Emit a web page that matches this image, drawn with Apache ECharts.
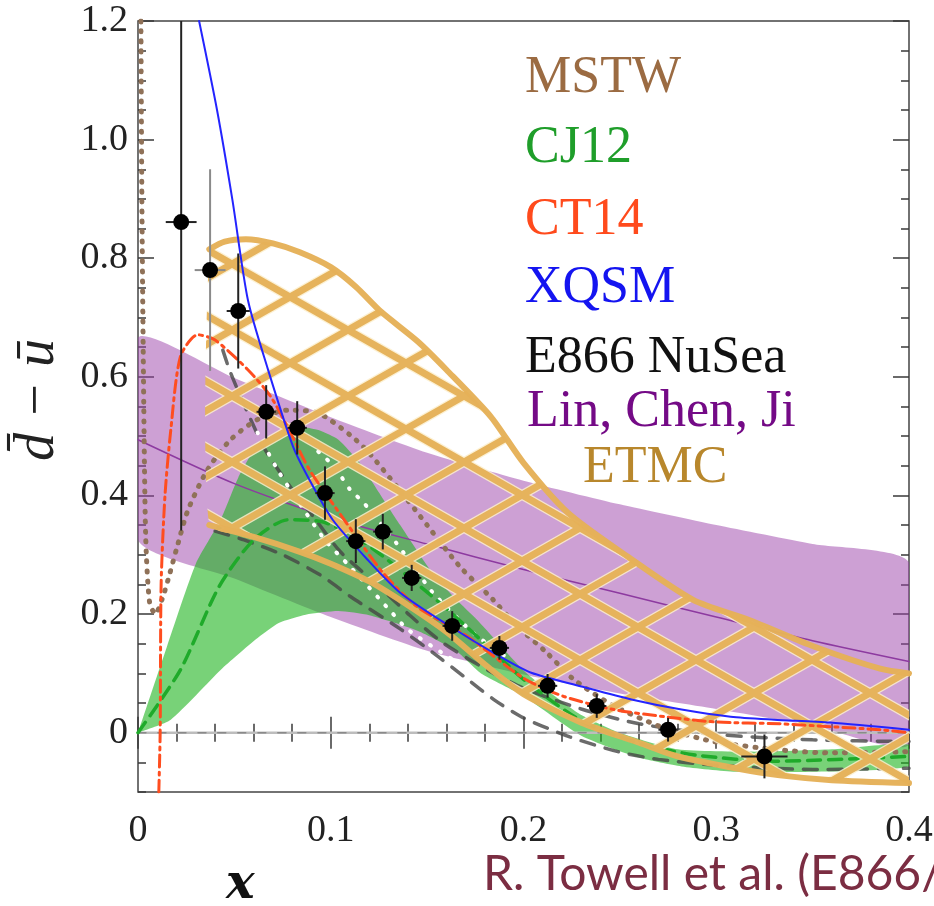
<!DOCTYPE html>
<html>
<head>
<meta charset="utf-8">
<script src="https://cdn.jsdelivr.net/npm/echarts@6/dist/echarts.min.js"></script>
<style>
html, body { margin: 0; padding: 0; background: #fff; }
#main { width: 934px; height: 906px; }
</style>
</head>
<body>
<div id="main"></div>
<script>
var dom = document.getElementById('main');
var myChart = echarts.init(dom, null, { renderer: 'canvas' });

// axis labels
var xLabels = [0, 0.1, 0.2, 0.3, 0.4];
var yMajor = [0, 0.2, 0.4, 0.6, 0.8, 1.0, 1.2];

// Lin, Chen, Ji (lattice) band and central curve
var lcjUpper = [[0, 0.666], [0.05, 0.598], [0.1, 0.532], [0.15, 0.472], [0.2, 0.425], [0.25, 0.385], [0.3, 0.35], [0.35, 0.318], [0.4, 0.287]];
var lcjLower = [[0, 0.325], [0.05, 0.26], [0.1, 0.195], [0.15, 0.138], [0.2, 0.098], [0.25, 0.066], [0.3, 0.04], [0.35, 0.012], [0.4, -0.02]];
var lcjCentral = [[0, 0.494], [0.05, 0.42], [0.1, 0.362], [0.15, 0.318], [0.2, 0.275], [0.25, 0.235], [0.3, 0.195], [0.35, 0.155], [0.4, 0.12]];

// CJ12 band and central curve
var cj12Upper = [[0, 0], [0.015, 0.145], [0.03, 0.285], [0.043, 0.36], [0.052, 0.43], [0.061, 0.48], [0.072, 0.505], [0.083, 0.516], [0.094, 0.51], [0.104, 0.494], [0.115, 0.455], [0.125, 0.405], [0.136, 0.35], [0.153, 0.268], [0.165, 0.225], [0.176, 0.19], [0.19, 0.14], [0.2, 0.105], [0.215, 0.065], [0.23, 0.03], [0.25, 0.0], [0.28, -0.028], [0.32, -0.032], [0.36, -0.028], [0.4, -0.02]];
var cj12Lower = [[0, 0], [0.017, 0.022], [0.043, 0.106], [0.061, 0.157], [0.073, 0.185], [0.087, 0.199], [0.104, 0.205], [0.12, 0.198], [0.145, 0.172], [0.165, 0.138], [0.178, 0.1], [0.2, 0.062], [0.23, -0.005], [0.26, -0.042], [0.282, -0.057], [0.31, -0.066], [0.35, -0.066], [0.4, -0.057]];
var cj12Central = [[0, 0], [0.022, 0.106], [0.042, 0.246], [0.06, 0.325], [0.078, 0.359], [0.095, 0.356], [0.113, 0.33], [0.13, 0.29], [0.158, 0.215], [0.18, 0.15], [0.2, 0.09], [0.23, 0.02], [0.26, -0.018], [0.29, -0.038], [0.33, -0.048], [0.4, -0.04]];

// other parametrisations (grey dashed, white dotted)
var grayA = [[0.044, 0.645], [0.048, 0.607], [0.057, 0.539], [0.066, 0.477], [0.08, 0.41], [0.092, 0.36], [0.105, 0.305], [0.124, 0.25], [0.141, 0.198], [0.158, 0.152], [0.18, 0.108], [0.2, 0.075], [0.23, 0.04], [0.26, 0.015], [0.3, -0.003], [0.35, -0.012], [0.4, -0.015]];
var grayB = [[0.04, 0.34], [0.055, 0.325], [0.075, 0.3], [0.095, 0.265], [0.11, 0.23], [0.136, 0.175], [0.153, 0.135], [0.169, 0.095], [0.185, 0.055], [0.2, 0.025], [0.224, -0.007], [0.249, -0.032], [0.27, -0.045], [0.3, -0.055], [0.35, -0.062], [0.4, -0.06]];
var whiteA = [[0.062, 0.506], [0.073, 0.44], [0.085, 0.381], [0.097, 0.325], [0.11, 0.28], [0.131, 0.205], [0.14, 0.174], [0.16, 0.13], [0.18, 0.09]];
var whiteB = [[0.0935, 0.474], [0.102, 0.448], [0.11, 0.41], [0.117, 0.388], [0.134, 0.32], [0.143, 0.28], [0.153, 0.236], [0.174, 0.168], [0.19, 0.13]];

// MSTW
var mstw = [[0.0015, 1.2], [0.002, 0.9], [0.003, 0.55], [0.004, 0.33], [0.006, 0.22], [0.009, 0.2], [0.0125, 0.225], [0.0156, 0.258], [0.02, 0.31], [0.026, 0.376], [0.036, 0.443], [0.048, 0.494], [0.062, 0.528], [0.078, 0.544], [0.0935, 0.539], [0.11, 0.502], [0.119, 0.475], [0.136, 0.408], [0.15, 0.35], [0.167, 0.28], [0.184, 0.225], [0.195, 0.185], [0.212, 0.135], [0.226, 0.09], [0.247, 0.045], [0.273, 0.008], [0.2987, -0.015], [0.333, -0.029], [0.359, -0.034], [0.4, -0.032]];

// CT14
var ct14 = [[0.0108, -0.1], [0.0115, 0.0], [0.012, 0.25], [0.014, 0.4], [0.017, 0.51], [0.022, 0.634], [0.031, 0.671], [0.04, 0.662], [0.057, 0.612], [0.069, 0.566], [0.08, 0.5], [0.089, 0.443], [0.107, 0.359], [0.127, 0.27], [0.145, 0.212], [0.171, 0.162], [0.2, 0.092], [0.221, 0.061], [0.247, 0.039], [0.273, 0.027], [0.3, 0.018], [0.333, 0.015], [0.36, 0.01], [0.385, 0.005], [0.4, 0.0]];

// XQSM
var xqsm = [[0.0317, 1.2], [0.041, 1.05], [0.049, 0.898], [0.057, 0.73], [0.067, 0.617], [0.0805, 0.482], [0.09, 0.42], [0.101, 0.359], [0.119, 0.292], [0.136, 0.236], [0.162, 0.179], [0.188, 0.128], [0.204, 0.101], [0.23, 0.078], [0.256, 0.056], [0.282, 0.039], [0.3075, 0.027], [0.33, 0.022], [0.359, 0.017], [0.4, 0.005]];

// ETMC band
var etmcUpper = [[0.037, 0.815], [0.045, 0.828], [0.056, 0.832], [0.07, 0.825], [0.084, 0.81], [0.1, 0.785], [0.113, 0.752], [0.126, 0.71], [0.145, 0.66], [0.16, 0.612], [0.183, 0.533], [0.2, 0.455], [0.223, 0.371], [0.254, 0.297], [0.288, 0.224], [0.317, 0.19], [0.351, 0.145], [0.385, 0.108], [0.4, 0.1]];
var etmcLower = [[0.037, 0.35], [0.06, 0.33], [0.084, 0.305], [0.1, 0.285], [0.12, 0.255], [0.14, 0.215], [0.16, 0.17], [0.18, 0.115], [0.2, 0.065], [0.23, 0.017], [0.26, -0.017], [0.28, -0.04], [0.31, -0.06], [0.333, -0.072], [0.36, -0.08], [0.4, -0.085]];

// E866 NuSea data points
var e866X = [0.0224, 0.0374, 0.052, 0.0665, 0.0826, 0.097, 0.113, 0.127, 0.142, 0.163, 0.1875, 0.2125, 0.238, 0.275, 0.325];
var e866Y = [0.861, 0.780, 0.711, 0.541, 0.514, 0.404, 0.323, 0.339, 0.261, 0.180, 0.143, 0.079, 0.045, 0.005, -0.040];
var e866YErr = [0.52, 0.17, 0.097, 0.045, 0.045, 0.045, 0.037, 0.03, 0.022, 0.025, 0.02, 0.02, 0.02, 0.02, 0.037];
var e866XErr = [0.008, 0.008, 0.006, 0.005, 0.005, 0.005, 0.005, 0.005, 0.005, 0.005, 0.005, 0.005, 0.005, 0.005, 0.012];

var serif = '"Liberation Serif", "Times New Roman", "DejaVu Serif", serif';

// diamond lattice used to fill the ETMC band
function meshCanvas() {
    var w = 116, h = 66;
    var c = document.createElement('canvas');
    c.width = w; c.height = h;
    var g = c.getContext('2d');
    function lattice() {
        g.beginPath();
        for (var n = -1; n <= 1; n++) {
            g.moveTo(0, n * h); g.lineTo(w, n * h + h);
            g.moveTo(0, n * h + h); g.lineTo(w, n * h);
        }
        g.stroke();
    }
    g.strokeStyle = 'rgba(252,238,205,0.85)';
    g.lineWidth = 9.5;
    lattice();
    g.strokeStyle = 'rgba(229,177,88,0.97)';
    g.lineWidth = 7;
    lattice();
    return c;
}
var meshImg = meshCanvas();

function clipRect(params) {
    var cs = params.coordSys;
    return { type: 'rect', shape: { x: cs.x, y: cs.y, width: cs.width, height: cs.height } };
}

function band(name, upper, lower, fill, z) {
    return {
        type: 'custom',
        name: name,
        data: [upper[0]],
        encode: { x: 0, y: 1 },
        silent: true,
        z: z,
        renderItem: function (params, api) {
            var pts = upper.map(function (p) { return api.coord(p); })
                .concat(lower.slice().reverse().map(function (p) { return api.coord(p); }));
            return {
                type: 'polygon',
                shape: { points: pts, smooth: 0.2 },
                style: { fill: fill, stroke: null },
                clipPath: clipRect(params)
            };
        }
    };
}

function curve(name, data, color, width, type, z) {
    return {
        type: 'line',
        name: name,
        data: data,
        symbol: 'none',
        showSymbol: false,
        smooth: 0.25,
        clip: true,
        silent: true,
        z: z,
        lineStyle: { color: color, width: width, type: type, cap: 'round' }
    };
}

var tickStyle = { color: '#3a3a3a', width: 1.5 };

function xAxisDef(pos, showLabel) {
    return {
        type: 'value', position: pos, min: 0, max: 0.4, interval: 0.1,
        axisLine: { show: false },
        splitLine: { show: false },
        axisTick: { inside: true, length: 16, lineStyle: tickStyle },
        minorTick: { show: true, splitNumber: 5, length: 9, lineStyle: tickStyle },
        axisLabel: {
            show: showLabel, margin: 20, fontFamily: serif, fontSize: 38, color: '#222',
            showMinLabel: true, showMaxLabel: true,
            formatter: function (v) { return v === 0 ? '0' : v.toFixed(1); }
        }
    };
}

function yMajorAxis(pos, showLabel) {
    return {
        type: 'value', position: pos, offset: 0, min: -0.1, max: 1.2, interval: 0.1,
        axisLine: { show: false },
        splitLine: { show: false },
        axisTick: { inside: true, length: 16, lineStyle: tickStyle, customValues: yMajor },
        axisLabel: {
            show: showLabel, margin: 10, fontFamily: serif, fontSize: 38, color: '#222',
            customValues: yMajor,
            formatter: function (v) {
                var k = Math.round(v * 10);
                if (k < 0 || k % 2 !== 0) return '';
                return k === 0 ? '0' : v.toFixed(1);
            }
        }
    };
}

function yMinorAxis(pos) {
    return {
        type: 'value', position: pos, offset: 0, min: -0.1, max: 1.2, interval: 0.05,
        axisLine: { show: false },
        splitLine: { show: false },
        axisTick: { inside: true, length: 8, lineStyle: tickStyle },
        axisLabel: { show: false }
    };
}

var legendItems = [
    { text: 'MSTW', color: '#9b6b42', x: 525, y: 52 },
    { text: 'CJ12', color: '#1f9e2a', x: 525, y: 122 },
    { text: 'CT14', color: '#ff4a1c', x: 525, y: 194 },
    { text: 'XQSM', color: '#1414f0', x: 525, y: 262 },
    { text: 'E866 NuSea', color: '#111111', x: 525, y: 332 },
    { text: 'Lin, Chen, Ji', color: '#740a86', x: 527, y: 386 },
    { text: 'ETMC', color: '#b8872c', x: 583, y: 442 }
];

option = {
    animation: false,
    backgroundColor: '#ffffff',
    grid: {
        left: 138, right: 25, top: 21, bottom: 114,
        show: true, borderColor: '#444', borderWidth: 1.5, backgroundColor: '#fff',
        containLabel: false, outerBoundsMode: 'none'
    },
    xAxis: [xAxisDef('bottom', true), xAxisDef('top', false)],
    yAxis: [yMajorAxis('left', true), yMinorAxis('left'), yMajorAxis('right', false), yMinorAxis('right')],
    graphic: legendItems.map(function (it) {
        return {
            type: 'text', left: it.x, top: it.y, z: 100,
            style: { text: it.text, fill: it.color, font: '52px ' + serif }
        };
    }).concat([
        {
            type: 'text', x: 38, y: 400, rotation: Math.PI / 2, z: 100,
            style: {
                text: 'd\u0304 \u2212 u\u0304', fill: '#222', font: 'italic 56px ' + serif,
                textAlign: 'center', textVerticalAlign: 'middle'
            }
        },
        {
            type: 'text', left: 226, top: 862, z: 100,
            style: { text: 'x', fill: '#111', font: 'italic bold 48px "DejaVu Serif", serif' }
        },
        {
            type: 'text', left: 483, top: 851, z: 100,
            style: { text: 'R. Towell et al. (E866/', fill: '#7b2d42', font: '48px Lato' }
        }
    ]),
    series: [
        band('Lin, Chen, Ji band', lcjUpper, lcjLower, 'rgba(155,65,170,0.5)', 1),
        band('CJ12 band', cj12Upper, cj12Lower, 'rgba(30,180,30,0.6)', 2),
        curve('Lin, Chen, Ji', lcjCentral, '#8d3aa0', 1.5, 'solid', 3),
        curve('zero', [[0, 0], [0.4, 0]], '#bdbdbd', 2.5, 'solid', 3),
        curve('zero dashes', [[0, 0], [0.4, 0]], '#8a8a8a', 1.5, [8, 12], 3),
        curve('grey A', grayA, 'rgba(70,70,70,0.8)', 3.5, [14, 11], 4),
        curve('grey B', grayB, 'rgba(70,70,70,0.8)', 3.5, [14, 11], 4),
        curve('white A', whiteA, '#ffffff', 4, [1, 11], 4),
        curve('white B', whiteB, '#ffffff', 4, [1, 11], 4),
        curve('CJ12', cj12Central, '#1faa2a', 3.5, [13, 8], 5),
        curve('MSTW', mstw, '#8f7158', 5, [1, 9], 5),
        band('ETMC band', etmcUpper, etmcLower, { image: meshImg, repeat: 'repeat' }, 6),
        curve('ETMC upper', etmcUpper, 'rgba(229,177,88,0.97)', 6, 'solid', 6),
        curve('ETMC lower', etmcLower, 'rgba(229,177,88,0.97)', 6, 'solid', 6),
        curve('CT14', ct14, '#ff4d1f', 3, [12, 5, 3, 5], 7),
        curve('XQSM', xqsm, '#2424ff', 2, 'solid', 7),
        {
            type: 'custom',
            name: 'E866 NuSea',
            z: 8,
            silent: true,
            data: e866X.map(function (x, i) { return [x, e866Y[i], e866YErr[i], e866XErr[i]]; }),
            encode: { x: 0, y: 1 },
            renderItem: function (params, api) {
                var x = api.value(0), y = api.value(1), ey = api.value(2), ex = api.value(3);
                var c = api.coord([x, y]);
                var top = api.coord([x, y + ey]);
                var bot = api.coord([x, y - ey]);
                var l = api.coord([x - ex, y]);
                var r = api.coord([x + ex, y]);
                var col = params.dataIndex === 1 ? '#8a8a8a' : '#222';
                return {
                    type: 'group',
                    clipPath: clipRect(params),
                    children: [
                        { type: 'line', shape: { x1: c[0], y1: top[1], x2: c[0], y2: bot[1] }, style: { stroke: col, lineWidth: 2 } },
                        { type: 'line', shape: { x1: l[0], y1: c[1], x2: r[0], y2: c[1] }, style: { stroke: col, lineWidth: 2 } },
                        { type: 'circle', shape: { cx: c[0], cy: c[1], r: 8 }, style: { fill: '#000' } }
                    ]
                };
            }
        }
    ]
};

myChart.setOption(option);
</script>
</body>
</html>
